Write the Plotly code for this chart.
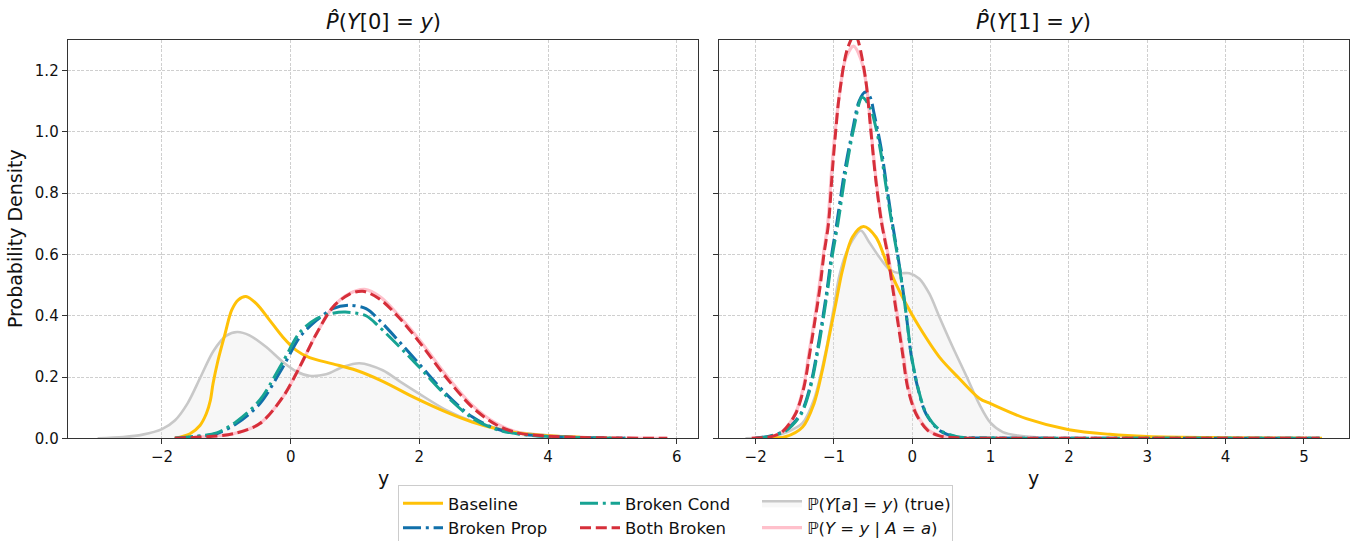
import plotly.graph_objects as go

# ---------------- data ----------------
# Left panel  : P̂(Y[0] = y)
L_base_x = [-1.80, -1.565, -1.41, -1.31, -1.248, -1.207, -1.13, -1.02, -0.917, -0.814, -0.695, -0.53, -0.325, -0.12, 0.088, 0.294, 0.655, 1.017, 1.43, 1.95, 2.41, 2.82, 3.18, 3.54, 4.0, 4.5, 5.0]
L_base_y = [0.0, 0.015, 0.042, 0.081, 0.124, 0.178, 0.254, 0.341, 0.418, 0.452, 0.463, 0.439, 0.385, 0.330, 0.287, 0.263, 0.243, 0.222, 0.186, 0.130, 0.086, 0.053, 0.032, 0.017, 0.008, 0.003, 0.0]

L_true_x = [-3.0, -2.6, -2.3, -2.0, -1.8, -1.6, -1.4, -1.2, -1.0, -0.83, -0.64, -0.38, -0.12, 0.09, 0.29, 0.55, 0.81, 1.07, 1.43, 1.7, 2.0, 2.41, 2.82, 3.18, 3.54, 4.0, 4.5, 5.0, 5.86]
L_true_y = [0.0, 0.004, 0.012, 0.03, 0.058, 0.115, 0.20, 0.285, 0.335, 0.347, 0.336, 0.298, 0.249, 0.218, 0.204, 0.209, 0.233, 0.245, 0.222, 0.185, 0.145, 0.093, 0.056, 0.035, 0.02, 0.01, 0.004, 0.001, 0.0]

L_prop_x = [-1.80, -1.5, -1.15, -0.84, -0.48, -0.12, 0.14, 0.40, 0.655, 0.91, 1.17, 1.38, 1.95, 2.41, 2.82, 3.18, 3.54, 4.0, 4.5, 5.2]
L_prop_y = [0.0, 0.005, 0.015, 0.048, 0.113, 0.233, 0.33, 0.385, 0.423, 0.434, 0.423, 0.385, 0.254, 0.146, 0.070, 0.032, 0.015, 0.006, 0.002, 0.0]

L_cond_x = [-1.80, -1.5, -1.15, -0.84, -0.48, -0.12, 0.14, 0.40, 0.655, 0.85, 1.17, 1.38, 1.95, 2.41, 2.82, 3.18, 3.54, 4.0, 4.5, 5.2]
L_cond_y = [0.0, 0.006, 0.018, 0.055, 0.125, 0.250, 0.345, 0.390, 0.408, 0.412, 0.400, 0.363, 0.243, 0.140, 0.066, 0.030, 0.014, 0.006, 0.002, 0.0]

L_both_x = [-1.80, -1.4, -0.89, -0.48, -0.12, 0.14, 0.40, 0.655, 0.91, 1.12, 1.38, 1.7, 2.0, 2.41, 2.82, 3.18, 3.54, 4.0, 4.5, 5.0, 5.85]
L_both_y = [0.0, 0.004, 0.015, 0.048, 0.135, 0.233, 0.341, 0.428, 0.470, 0.480, 0.455, 0.390, 0.314, 0.200, 0.102, 0.046, 0.017, 0.007, 0.003, 0.001, 0.0]

L_obs_x = [-1.80, -1.4, -0.89, -0.48, -0.12, 0.14, 0.40, 0.655, 0.91, 1.15, 1.40, 1.7, 2.0, 2.41, 2.82, 3.18, 3.54, 4.0, 4.5, 5.0, 5.86]
L_obs_y = [0.0, 0.004, 0.015, 0.048, 0.135, 0.233, 0.341, 0.428, 0.472, 0.486, 0.460, 0.396, 0.322, 0.208, 0.108, 0.050, 0.019, 0.008, 0.003, 0.001, 0.0]

# Right panel : P̂(Y[1] = y)
R_base_x = [-1.85, -1.62, -1.40, -1.255, -1.148, -1.063, -0.977, -0.892, -0.764, -0.623, -0.465, -0.337, -0.209, -0.081, 0.09, 0.346, 0.60, 0.858, 1.0, 1.456, 2.0, 2.52, 3.0, 4.0, 5.23]
R_base_y = [0.0, 0.005, 0.037, 0.113, 0.222, 0.330, 0.439, 0.548, 0.657, 0.691, 0.657, 0.580, 0.504, 0.439, 0.363, 0.265, 0.195, 0.130, 0.113, 0.064, 0.028, 0.013, 0.006, 0.002, 0.0]

R_true_x = [-2.13, -1.8, -1.6, -1.4, -1.25, -1.1, -1.0, -0.935, -0.849, -0.764, -0.657, -0.55, -0.42, -0.295, -0.166, -0.038, 0.09, 0.218, 0.346, 0.516, 0.687, 0.858, 1.0, 1.156, 1.37, 1.7, 2.2]
R_true_y = [0.0, 0.005, 0.02, 0.05, 0.13, 0.29, 0.43, 0.526, 0.602, 0.646, 0.678, 0.640, 0.591, 0.552, 0.539, 0.539, 0.521, 0.472, 0.396, 0.298, 0.205, 0.110, 0.050, 0.020, 0.008, 0.002, 0.0]

R_prop_x = [-2.0, -1.81, -1.617, -1.425, -1.306, -1.22, -1.148, -1.084, -1.028, -0.965, -0.87, -0.764, -0.68, -0.60, -0.54, -0.487, -0.40, -0.337, -0.26, -0.188, -0.124, -0.068, -0.017, 0.068, 0.175, 0.346, 0.56, 1.0, 2.0, 3.0, 4.0, 5.2]
R_prop_y = [0.0, 0.008, 0.026, 0.080, 0.167, 0.276, 0.385, 0.493, 0.602, 0.700, 0.863, 1.004, 1.100, 1.130, 1.115, 1.059, 0.950, 0.841, 0.711, 0.602, 0.493, 0.385, 0.276, 0.167, 0.080, 0.026, 0.005, 0.001, 0.0, 0.0, 0.0, 0.0]

R_cond_x = [-2.0, -1.81, -1.617, -1.425, -1.306, -1.22, -1.148, -1.084, -1.028, -0.95, -0.85, -0.74, -0.64, -0.54, -0.47, -0.40, -0.34, -0.26, -0.188, -0.124, -0.068, -0.017, 0.068, 0.175, 0.346, 0.56, 1.0, 2.0, 3.0, 4.0, 5.2]
R_cond_y = [0.0, 0.007, 0.024, 0.076, 0.160, 0.265, 0.372, 0.478, 0.585, 0.700, 0.870, 1.020, 1.113, 1.080, 1.020, 0.930, 0.830, 0.700, 0.595, 0.490, 0.385, 0.280, 0.170, 0.083, 0.028, 0.006, 0.001, 0.0, 0.0, 0.0, 0.0]

R_both_x = [-2.05, -1.81, -1.66, -1.49, -1.383, -1.31, -1.242, -1.178, -1.127, -1.07, -1.02, -0.977, -0.935, -0.83, -0.73, -0.68, -0.593, -0.529, -0.465, -0.39, -0.316, -0.252, -0.188, -0.124, -0.06, 0.047, 0.196, 0.346, 0.6, 1.0, 2.0, 3.0, 4.0, 5.2]
R_both_y = [0.0, 0.005, 0.021, 0.080, 0.167, 0.276, 0.385, 0.493, 0.602, 0.700, 0.874, 1.004, 1.113, 1.270, 1.320, 1.287, 1.167, 1.004, 0.841, 0.700, 0.602, 0.493, 0.385, 0.276, 0.167, 0.080, 0.026, 0.008, 0.001, 0.0, 0.0, 0.0, 0.0, 0.0]

R_obs_x = [-2.05, -1.81, -1.66, -1.49, -1.39, -1.32, -1.25, -1.19, -1.135, -1.08, -1.03, -0.985, -0.94, -0.85, -0.75, -0.66, -0.59, -0.525, -0.46, -0.385, -0.31, -0.245, -0.18, -0.115, -0.05, 0.055, 0.21, 0.36, 0.6, 1.0, 2.0, 3.0, 4.0, 5.2]
R_obs_y = [0.0, 0.005, 0.022, 0.082, 0.167, 0.276, 0.385, 0.493, 0.602, 0.700, 0.874, 1.000, 1.100, 1.240, 1.280, 1.240, 1.160, 1.000, 0.840, 0.700, 0.602, 0.493, 0.385, 0.276, 0.167, 0.080, 0.026, 0.008, 0.001, 0.0, 0.0, 0.0, 0.0, 0.0]

SERIES_NAMES = ["Baseline", "Broken Prop", "Broken Cond", "Both Broken",
                "ℙ(<i>Y</i>[<i>a</i>] = <i>y</i>) (true)", "ℙ(<i>Y</i> = <i>y</i> | <i>A</i> = <i>a</i>)"]
TITLES = ["<i>P̂</i>(<i>Y</i>[0] = <i>y</i>)", "<i>P̂</i>(<i>Y</i>[1] = <i>y</i>)"]
Y_TICKS = [0.0, 0.2, 0.4, 0.6, 0.8, 1.0, 1.2]
L_X_TICKS = [-2, 0, 2, 4, 6]
R_X_TICKS = [-2, -1, 0, 1, 2, 3, 4, 5]

# ---------------- styling ----------------
W, H = 1365, 541
FONT = "DejaVu Sans"
C_BASE, C_PROP, C_COND, C_BOTH = "#FFC107", "#1170AA", "#17A393", "#D62F3A"
C_TRUE_LINE, C_TRUE_FILL, C_OBS = "#C8C8C8", "rgba(225,225,225,0.28)", "#FFC0CB"
DASH = "11px,4.8px"
DASHDOT = "18px,4.8px,3px,4.8px"

fig = go.Figure()

panels = [
    dict(ax="x", ay="y", base=(L_base_x, L_base_y), true=(L_true_x, L_true_y), prop=(L_prop_x, L_prop_y),
         cond=(L_cond_x, L_cond_y), both=(L_both_x, L_both_y), obs=(L_obs_x, L_obs_y), legend=True),
    dict(ax="x2", ay="y2", base=(R_base_x, R_base_y), true=(R_true_x, R_true_y), prop=(R_prop_x, R_prop_y),
         cond=(R_cond_x, R_cond_y), both=(R_both_x, R_both_y), obs=(R_obs_x, R_obs_y), legend=False),
]

LW = {"g1": 122, "g2": 127, "g3": 140}

def add(p, key, name, color, dash, width, group, rank, fill=None):
    xs, ys = p[key]
    fig.add_trace(go.Scatter(
        x=xs, y=ys, mode="lines", name=name,
        line=dict(color=color, width=width, dash=dash, shape="spline", smoothing=0.9),
        fill=fill, fillcolor=C_TRUE_FILL if fill else None,
        legendgroup=group, legendrank=rank, legendwidth=LW[group],
        showlegend=p["legend"], xaxis=p["ax"], yaxis=p["ay"], hoverinfo="skip"))

for p in panels:
    add(p, "true", SERIES_NAMES[4], C_TRUE_LINE, "solid", 2.6, "g3", 5, fill="tozeroy")
    add(p, "obs", SERIES_NAMES[5], C_OBS, "solid", 3.2, "g3", 6)
    add(p, "base", SERIES_NAMES[0], C_BASE, "solid", 3.0, "g1", 1)
    add(p, "prop", SERIES_NAMES[1], C_PROP, DASHDOT, 3.0, "g1", 2)
    add(p, "cond", SERIES_NAMES[2], C_COND, DASHDOT, 3.0, "g2", 3)
    add(p, "both", SERIES_NAMES[3], C_BOTH, DASH, 3.0, "g2", 4)

# pixel geometry
LX0, LX1, RX0, RX1 = 67.7, 698.3, 718.5, 1349.3
YT, YB = 40.0, 438.3

common_axis = dict(showline=True, linecolor="#333333", linewidth=1, mirror=True,
                   ticks="outside", ticklen=5, tickwidth=1, tickcolor="#333333",
                   showgrid=True, gridcolor="#CFCFCF", gridwidth=0.8, griddash="3px,1.5px",
                   zeroline=False, tickfont=dict(family=FONT, size=15, color="#111111"))

fig.update_layout(
    width=W, height=H, margin=dict(l=0, r=0, t=0, b=0, autoexpand=False),
    paper_bgcolor="white", plot_bgcolor="white",
    font=dict(family=FONT, size=16, color="#111111"),
    xaxis=dict(domain=[LX0 / W, LX1 / W], range=[-3.465, 6.334], tickvals=L_X_TICKS, anchor="y", **common_axis),
    xaxis2=dict(domain=[RX0 / W, RX1 / W], range=[-2.474, 5.579], tickvals=R_X_TICKS, anchor="y2", **common_axis),
    yaxis=dict(domain=[(H - YB) / H, (H - YT) / H], range=[0, 1.3], tickvals=Y_TICKS, tickformat=".1f",
               anchor="x", **common_axis),
    yaxis2=dict(domain=[(H - YB) / H, (H - YT) / H], range=[0, 1.3], tickvals=Y_TICKS, matches="y",
                showticklabels=False, anchor="x2", **common_axis),
    legend=dict(orientation="h", traceorder="grouped", x=398 / W, xanchor="left",
                y=(H - 485) / H, yanchor="top", bordercolor="#CCCCCC", borderwidth=1,
                bgcolor="white", font=dict(family=FONT, size=16.5, color="#111111"),
                tracegroupgap=0, itemwidth=40),
    showlegend=True,
)

ann = [
    dict(text=TITLES[0], x=(LX0 + LX1) / 2 / W, y=(H - 22) / H, font=dict(size=21)),
    dict(text=TITLES[1], x=(RX0 + RX1) / 2 / W, y=(H - 22) / H, font=dict(size=21)),
    dict(text="y", x=(LX0 + LX1) / 2 / W, y=(H - 478) / H, font=dict(size=19)),
    dict(text="y", x=(RX0 + RX1) / 2 / W, y=(H - 478) / H, font=dict(size=19)),
    dict(text="Probability Density", x=15 / W, y=(H - 239) / H, textangle=-90, font=dict(size=19)),
]
for a in ann:
    fig.add_annotation(xref="paper", yref="paper", xanchor="center", yanchor="middle",
                       showarrow=False, **a)

fig.write_html("out.html")
